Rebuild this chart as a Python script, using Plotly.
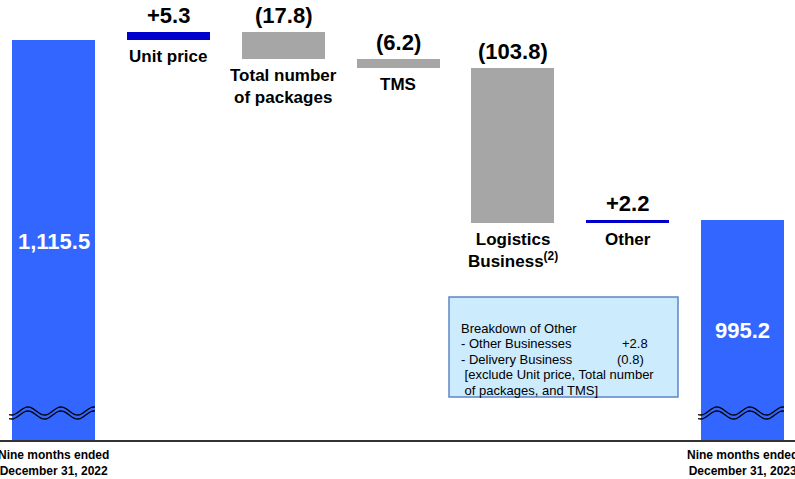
import math
import plotly.graph_objects as go

# ---------------- data ----------------
categories = [
    "Nine months ended<br>December 31, 2022",
    "Unit price",
    "Total number<br>of packages",
    "TMS",
    "Logistics<br>Business<sup>(2)</sup>",
    "Other",
    "Nine months ended<br>December 31, 2023",
]
values = [1115.5, 5.3, -17.8, -6.2, -103.8, 2.2, 995.2]
kinds = ["total", "delta", "delta", "delta", "delta", "delta", "total"]
value_labels = ["1,115.5", "+5.3", "(17.8)", "(6.2)", "(103.8)", "+2.2", "995.2"]

breakdown_lines = [
    "Breakdown of Other",
    "- Other Businesses",
    "- Delivery Business",
    "\u00a0[exclude Unit price, Total number",
    "\u00a0of packages, and TMS]",
]
breakdown_values = ["+2.8", "(0.8)"]

# ---------------- style ----------------
C_TOTAL = "#3366FF"
C_UP = "#0000CC"
C_DOWN = "#A6A6A6"
FONT = "Arial, 'Liberation Sans', sans-serif"

W, H = 795, 479
MB = 39
PLOT_H = H - MB
YMIN, YMAX = 848.0, 1142.3
XMIN, XMAX = -0.466, 6.457
PX_X = W / (XMAX - XMIN)
PX_Y = PLOT_H / (YMAX - YMIN)

# ---------------- waterfall geometry ----------------
x_idx = list(range(len(values)))
bases, heights, colors, tops, bottoms = [], [], [], [], []
running = 0.0
for v, k in zip(values, kinds):
    if k == "total":
        b, h = 0.0, v
        running = v
        c = C_TOTAL
    else:
        if v >= 0:
            b, h = running, v
            c = C_UP
        else:
            b, h = running + v, -v
            c = C_DOWN
        running += v
    bases.append(b)
    heights.append(h)
    colors.append(c)
    tops.append(b + h)
    bottoms.append(b)

fig = go.Figure()
fig.add_trace(go.Bar(
    x=x_idx, y=heights, base=bases, width=0.723,
    marker=dict(color=colors, line=dict(width=0)),
    hoverinfo="skip", showlegend=False,
))

annotations = []
for i, (k, lab, cat) in enumerate(zip(kinds, value_labels, categories)):
    if k == "total":
        ymid = (tops[i] + YMIN) / 2
        annotations.append(dict(
            x=i, y=ymid, xref="x", yref="y", text=f"<b>{lab}</b>", showarrow=False,
            font=dict(family=FONT, size=22, color="white"), yanchor="middle", yshift=-1,
        ))
        annotations.append(dict(
            x=i, y=0, xref="x", yref="paper", text=f"<b>{cat}</b>", showarrow=False,
            font=dict(family=FONT, size=12, color="black"), yanchor="top", yshift=-6,
        ))
    else:
        annotations.append(dict(
            x=i, y=tops[i], xref="x", yref="y", text=f"<b>{lab}</b>", showarrow=False,
            font=dict(family=FONT, size=22, color="black"), yanchor="bottom", yshift=2,
        ))
        annotations.append(dict(
            x=i, y=bottoms[i], xref="x", yref="y", text=f"<b>{cat}</b>", showarrow=False,
            font=dict(family=FONT, size=17, color="black"), yanchor="top", yshift=-5,
        ))

# ---------------- breakdown box ----------------
def px_to_paper_x(px):
    return px / W

def px_to_paper_y(py):
    return 1 - py / PLOT_H

shapes = []
shapes.append(dict(
    type="rect", xref="paper", yref="paper",
    x0=px_to_paper_x(449), x1=px_to_paper_x(678),
    y0=px_to_paper_y(397), y1=px_to_paper_y(297),
    fillcolor="#CCEBFD", line=dict(color="#5B87C8", width=1.5), layer="above",
))
line_y = [328, 343.5, 359, 374.5, 390]
for txt, yp in zip(breakdown_lines, line_y):
    annotations.append(dict(
        x=px_to_paper_x(459), y=px_to_paper_y(yp), xref="paper", yref="paper",
        text=txt, showarrow=False, align="left", xanchor="left", yanchor="middle",
        font=dict(family=FONT, size=13, color="black"),
    ))
for val, xp, yp in zip(breakdown_values, [620, 615], line_y[1:3]):
    annotations.append(dict(
        x=px_to_paper_x(xp), y=px_to_paper_y(yp), xref="paper", yref="paper",
        text=val, showarrow=False, xanchor="left", yanchor="middle",
        font=dict(family=FONT, size=13, color="black"),
    ))

# ---------------- axis break marks (decoration) ----------------
def wave_path(cx_data, offset_px):
    cx_px = (cx_data - XMIN) * PX_X
    pts = []
    n = 60
    for j in range(n + 1):
        xp = cx_px - 44.5 + 86 * j / n
        yp = 413 + offset_px - 4 * math.cos(2 * math.pi * (xp - (cx_px - 25.5)) / 33)
        xd = XMIN + xp / PX_X
        yd = YMAX - yp / PX_Y
        pts.append(f"{xd:.4f},{yd:.3f}")
    return "M " + " L ".join(pts)

for i, k in enumerate(kinds):
    if k == "total":
        for off in (-2, 2):
            shapes.append(dict(
                type="path", xref="x", yref="y", path=wave_path(i, off),
                line=dict(color="black", width=1.3), layer="above",
            ))

fig.update_layout(
    width=W, height=H,
    margin=dict(l=0, r=0, t=0, b=MB),
    plot_bgcolor="white", paper_bgcolor="white",
    xaxis=dict(range=[XMIN, XMAX], showgrid=False, zeroline=False, showticklabels=False,
               ticks="", showline=True, linecolor="#333333", linewidth=1.5, fixedrange=True),
    yaxis=dict(range=[YMIN, YMAX], showgrid=False, zeroline=False, showticklabels=False,
               ticks="", showline=False, visible=False, fixedrange=True),
    annotations=annotations, shapes=shapes,
    bargap=0, showlegend=False,
)

fig.write_html(
    "out.html",
    config={"displayModeBar": False},
    post_script="document.body.style.margin='0px';document.body.style.overflow='hidden';",
)
